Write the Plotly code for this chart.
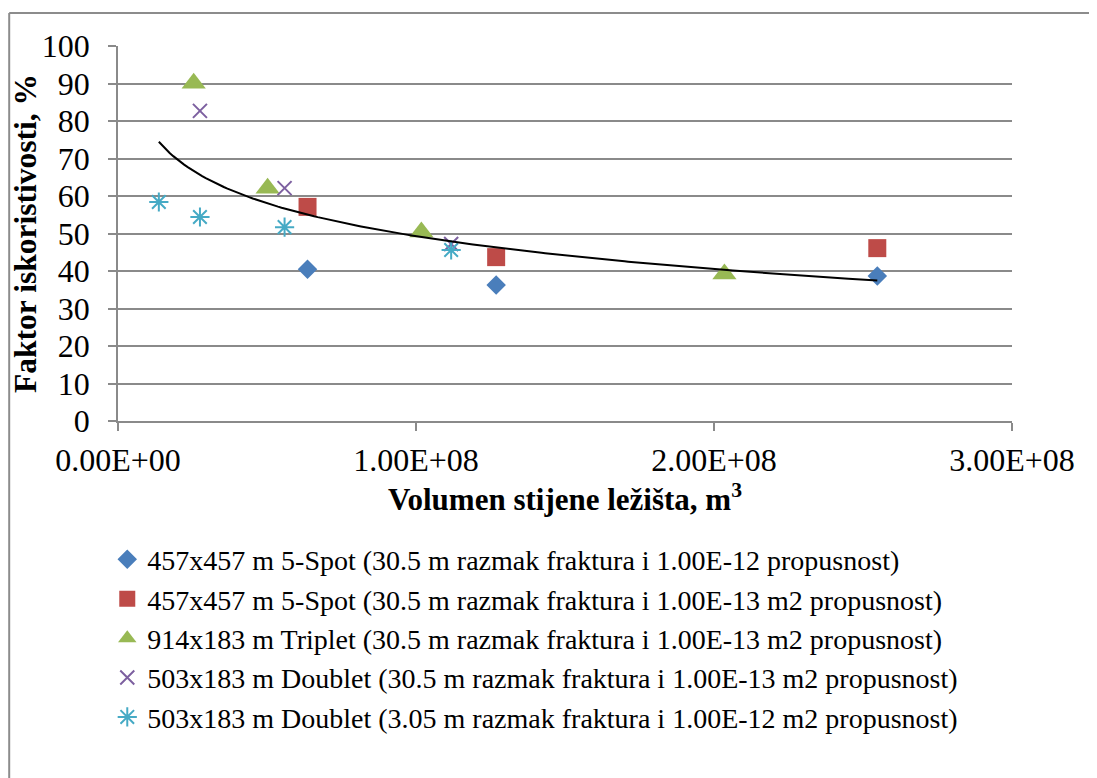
import numpy as np
import plotly.graph_objects as go

# ---- data ----
s1_name = "457x457 m 5-Spot (30.5 m razmak fraktura i 1.00E-12 propusnost)"
s1_x = [0.636e8, 1.269e8, 2.548e8]
s1_y = [40.5, 36.3, 38.7]

s2_name = "457x457 m 5-Spot (30.5 m razmak fraktura i 1.00E-13 m2 propusnost)"
s2_x = [0.636e8, 1.269e8, 2.548e8]
s2_y = [57.1, 43.7, 46.1]

s3_name = "914x183 m Triplet (30.5 m razmak fraktura i 1.00E-13 m2 propusnost)"
s3_x = [0.254e8, 0.502e8, 1.018e8, 2.035e8]
s3_y = [90.1, 62.1, 50.4, 39.2]

s4_name = "503x183 m Doublet (30.5 m razmak fraktura i 1.00E-13 m2 propusnost)"
s4_x = [0.275e8, 0.559e8, 1.118e8]
s4_y = [82.7, 62.1, 47.2]

s5_name = "503x183 m Doublet (3.05 m razmak fraktura i 1.00E-12 m2 propusnost)"
s5_x = [0.137e8, 0.275e8, 0.559e8, 1.118e8]
s5_y = [58.4, 54.4, 51.7, 45.6]

x_tickvals = [0, 1e8, 2e8, 3e8]
x_ticktext = ["0.00E+00", "1.00E+08", "2.00E+08", "3.00E+08"]
y_tickvals = list(range(0, 101, 10))

x_title = "Volumen stijene ležišta, m<sup>3</sup>"
y_title = "Faktor iskoristivosti, %"

FONT = "Liberation Serif, Times New Roman, serif"
GRID = "#8a8a8a"

fig = go.Figure()

fig.add_trace(go.Scatter(x=s1_x, y=s1_y, mode="markers", name=s1_name,
                         marker=dict(symbol="diamond", size=15, color="#4A7EBB")))
fig.add_trace(go.Scatter(x=s2_x, y=s2_y, mode="markers", name=s2_name,
                         marker=dict(symbol="square", size=18, color="#BE4B48")))
fig.add_trace(go.Scatter(x=s3_x, y=s3_y, mode="markers", name=s3_name,
                         marker=dict(symbol="triangle-up", size=21, color="#98B954")))
fig.add_trace(go.Scatter(x=s4_x, y=s4_y, mode="markers", name=s4_name,
                         marker=dict(symbol="x-thin-open", size=14, color="#7D60A0",
                                     line=dict(width=2, color="#7D60A0"))))
fig.add_trace(go.Scatter(x=s5_x, y=s5_y, mode="markers", name=s5_name,
                         marker=dict(symbol="asterisk-open", size=16, color="#46AAC5",
                                     line=dict(width=2, color="#46AAC5"))))

# logarithmic trendline fitted to all points
all_x = np.array(s1_x + s2_x + s3_x + s4_x + s5_x)
all_y = np.array(s1_y + s2_y + s3_y + s4_y + s5_y)
b, a = np.polyfit(np.log(all_x), all_y, 1)
tx = np.linspace(all_x.min(), all_x.max(), 200)
ty = a + b * np.log(tx)
fig.add_trace(go.Scatter(x=tx, y=ty, mode="lines", showlegend=False,
                         line=dict(color="black", width=2), hoverinfo="skip"))

fig.update_layout(
    width=1097, height=778,
    margin=dict(l=108, r=93, t=38, b=365),
    paper_bgcolor="white", plot_bgcolor="white",
    font=dict(family=FONT, size=31, color="black"),
    showlegend=True,
    legend=dict(x=-0.012, xanchor="left", y=-0.303, yanchor="top",
                font=dict(family=FONT, size=28, color="black"),
                tracegroupgap=0, itemsizing="trace", bgcolor="rgba(0,0,0,0)"),
    xaxis=dict(range=[0, 3e8], tickvals=x_tickvals, ticktext=x_ticktext,
               showgrid=False, zeroline=False, showline=True, linecolor=GRID, linewidth=1.5,
               ticks="outside", ticklen=8, tickcolor=GRID, tickwidth=1.5,
               tickfont=dict(family=FONT, size=32), ticklabelstandoff=2,
               title=dict(text=x_title, font=dict(family=FONT, size=31, weight="bold"), standoff=11)),
    yaxis=dict(range=[0, 100], tickvals=y_tickvals,
               showgrid=True, gridcolor=GRID, gridwidth=1.5, zeroline=False,
               showline=True, linecolor=GRID, linewidth=1.5,
               ticks="outside", ticklen=8, tickcolor=GRID, tickwidth=1.5,
               tickfont=dict(family=FONT, size=32), ticklabelstandoff=12,
               title=dict(text=y_title, font=dict(family=FONT, size=31.5, weight="bold"), standoff=0)),
    shapes=[
        dict(type="line", xref="paper", yref="paper", x0=-0.1217, x1=1.2, y0=1.088, y1=1.088,
             line=dict(color="#8c8c8c", width=2)),
        dict(type="line", xref="paper", yref="paper", x0=-0.1217, x1=-0.1217, y0=1.088, y1=-1.0,
             line=dict(color="#8c8c8c", width=2)),
    ],
)

fig.write_html("out.html")
